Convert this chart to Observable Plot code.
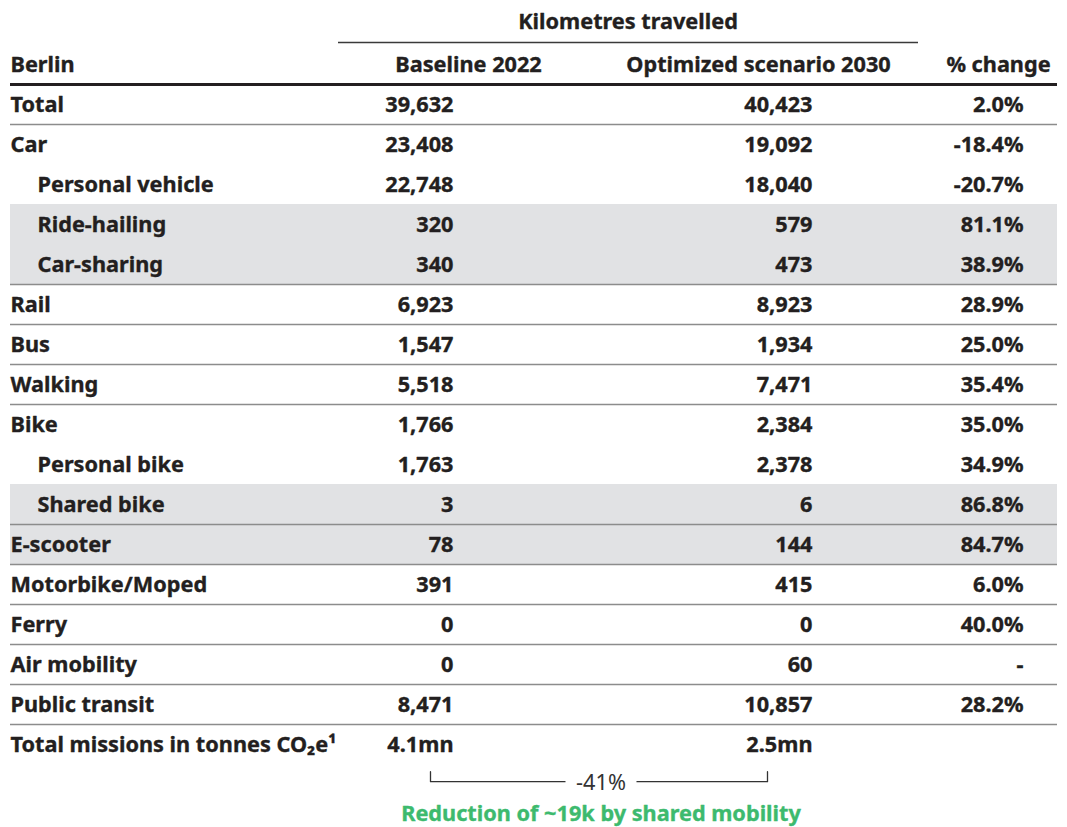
<!DOCTYPE html>
<html>
<head>
<meta charset="utf-8">
<script src="https://cdn.jsdelivr.net/npm/d3@7"></script>
<script src="https://cdn.jsdelivr.net/npm/@observablehq/plot@0.6"></script>
<style>
  html, body { margin: 0; padding: 0; background: #ffffff; }
  #chart svg { display: block; }
</style>
</head>
<body>
<div id="chart"></div>
<script>
// ---------- data ----------
const tableTitle = "Berlin";
const groupHeader = "Kilometres travelled";
const columnHeaders = ["Baseline 2022", "Optimized scenario 2030", "% change"];

const modes = ["Total", "Car", "Personal vehicle", "Ride-hailing", "Car-sharing", "Rail", "Bus",
  "Walking", "Bike", "Personal bike", "Shared bike", "E-scooter", "Motorbike/Moped", "Ferry",
  "Air mobility", "Public transit"];
const isSubMode = [false, false, true, true, true, false, false, false, false, true, true,
  false, false, false, false, false];
const baseline2022 = [39632, 23408, 22748, 320, 340, 6923, 1547, 5518, 1766, 1763, 3, 78, 391, 0, 0, 8471];
const optimized2030 = [40423, 19092, 18040, 579, 473, 8923, 1934, 7471, 2384, 2378, 6, 144, 415, 0, 60, 10857];
const pctChange = [2.0, -18.4, -20.7, 81.1, 38.9, 28.9, 25.0, 35.4, 35.0, 34.9, 86.8, 84.7, 6.0, 40.0, null, 28.2];

// shared-mobility highlight groups (by mode name)
const sharedGroups = [["Ride-hailing", "Car-sharing"], ["Shared bike", "E-scooter"]];
// rows that are followed by a separator line
const separatedAfter = ["Total", "Car-sharing", "Rail", "Bus", "Walking", "Shared bike", "E-scooter",
  "Motorbike/Moped", "Ferry", "Air mobility", "Public transit"];

const emissionsLabel = "Total missions in tonnes CO\u2082e\u00B9";
const emissionsBaseline = 4.1;   // mn tonnes
const emissionsOptimized = 2.5;  // mn tonnes
const emissionsChange = -41;     // %
const sharedMobilityNote = "Reduction of ~19k by shared mobility";

// ---------- build ----------
const fmtInt = d3.format(",");
const fmtPct = v => v == null ? "-" : v.toFixed(1) + "%";
const rows = modes.map((m, i) => ({
  i, label: m, sub: isSubMode[i],
  base: fmtInt(baseline2022[i]), opt: fmtInt(optimized2030[i]), pct: fmtPct(pctChange[i])
}));
const emRow = modes.length;
rows.push({i: emRow, label: emissionsLabel, sub: false,
  base: emissionsBaseline + "mn", opt: emissionsOptimized + "mn", pct: ""});

const idx = name => modes.indexOf(name);
const bands = sharedGroups.map(g => ({y1: idx(g[0]) - 0.5, y2: idx(g[g.length - 1]) + 0.5}));
const seps = separatedAfter.map(n => idx(n) + 0.5);

// column anchors (px)
const L = 10, R = 1057, indent = 27;
const colBase = 453, colOpt = 812, colPct = 1023;
const hdrCenters = [468, 758, 998];
const grpX1 = 338, grpX2 = 918;

const textColor = "#231f20";
const font = "'Noto Sans', 'Open Sans', sans-serif";
const fs = 21.7;
const boldText = {fontSize: fs, fontWeight: "bold", fill: textColor, stroke: textColor, strokeWidth: 0.35, dy: 1};

const bracketLeft = colBase - 23, bracketRight = colOpt - 45;
const bracketMid = (bracketLeft + bracketRight) / 2 + 2;
const bracketY = emRow + 0.93, bracketTop = emRow + 0.68;
const gapHalf = 36;

const chart = Plot.plot({
  width: 1067,
  height: 827,
  margin: 0,
  style: {background: "#ffffff", fontFamily: font},
  x: {domain: [0, 1067], range: [0, 1067], axis: null},
  y: {domain: [-2.6, 18.075], range: [0, 827], axis: null},
  marks: [
    Plot.rect(bands, {x1: L, x2: R, y1: "y1", y2: "y2", fill: "#e1e2e4"}),
    Plot.ruleY(seps, {x1: L, x2: R, stroke: "#8c8c8c", strokeWidth: 1.6}),
    Plot.ruleY([-0.5], {x1: L, x2: R, stroke: "#231f20", strokeWidth: 3}),
    Plot.ruleY([-1.55], {x1: grpX1, x2: grpX2, stroke: "#3a3a3a", strokeWidth: 1.5}),
    // headers
    Plot.text([groupHeader], {...boldText, x: (grpX1 + grpX2) / 2 - 0.5, y: -2.08, text: d => d}),
    Plot.text([tableTitle], {...boldText, x: L, y: -1, text: d => d, textAnchor: "start"}),
    Plot.text(columnHeaders, {...boldText, x: (d, i) => hdrCenters[i], y: -1, text: d => d}),
    // body
    Plot.text(rows, {...boldText, x: d => d.sub ? L + indent : L, y: "i", text: "label", textAnchor: "start"}),
    Plot.text(rows, {...boldText, x: colBase, y: "i", text: "base", textAnchor: "end"}),
    Plot.text(rows, {...boldText, x: colOpt, y: "i", text: "opt", textAnchor: "end"}),
    Plot.text(rows, {...boldText, x: colPct, y: "i", text: "pct", textAnchor: "end"}),
    // bracket
    Plot.line([[bracketLeft, bracketTop], [bracketLeft, bracketY], [bracketMid - gapHalf, bracketY]],
      {x: d => d[0], y: d => d[1], stroke: "#333", strokeWidth: 1.3}),
    Plot.line([[bracketMid + gapHalf, bracketY], [bracketRight, bracketY], [bracketRight, bracketTop]],
      {x: d => d[0], y: d => d[1], stroke: "#333", strokeWidth: 1.3}),
    Plot.text([emissionsChange + "%"], {x: bracketMid, y: bracketY, dy: 1, text: d => d, fontSize: fs, fontWeight: "normal", fill: "#333"}),
    Plot.text([sharedMobilityNote], {x: bracketMid, y: emRow + 1.72, dy: 1, text: d => d, fontSize: fs, fontWeight: "bold",
      fill: "#3dba6e", stroke: "#3dba6e", strokeWidth: 0.35})
  ]
});
document.getElementById("chart").appendChild(chart);
</script>
</body>
</html>
